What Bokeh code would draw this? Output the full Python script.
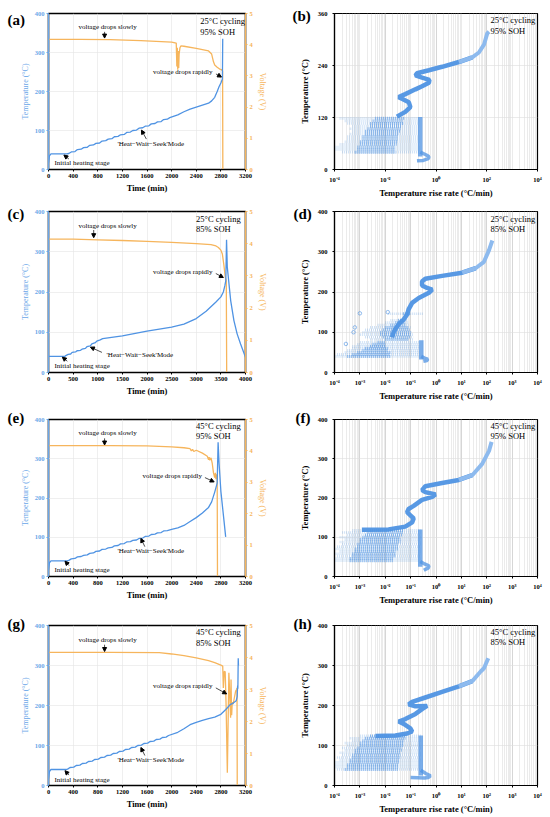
from bokeh.plotting import figure
from bokeh.models import (Range1d, LinearAxis, FixedTicker, Label, Arrow, NormalHead,
                          CustomJSTickFormatter)
from bokeh.layouts import column, row
from bokeh.embed import file_html
from bokeh.resources import INLINE

FONT = "Liberation Serif"
BLUE = "#4f93e3"
BLUE_LIGHT = "#8dbaee"
BLUE_AX = "#6aa6e8"
ORANGE = "#f6b55c"

# ---------------- data: time-series panels ----------------
# (a) 25°C cycling, 95% SOH
a_tT = [0, 15, 40, 300, 330, 370, 430, 470, 530, 570, 630, 670, 730, 770, 830, 870, 930, 970, 1030,
        1070, 1130, 1170, 1230, 1270, 1330, 1370, 1430, 1470, 1530, 1570, 1630, 1670, 1730, 1770, 1830,
        1870, 1930, 1970, 2100, 2200, 2300, 2400, 2500, 2600, 2650, 2700, 2740, 2770, 2800, 2825, 2830]
a_T = [17, 35, 40, 40, 41, 45, 46, 51, 52, 56, 57, 62, 63, 67, 68, 73, 74, 78, 79,
       84, 85, 89, 90, 95, 96, 100, 101, 106, 107, 111, 112, 117, 118, 122, 123,
       128, 129, 133, 140, 148, 155, 160, 165, 170, 176, 185, 200, 212, 222, 232, 335]
a_tV = [0, 500, 1000, 1500, 2000, 2075, 2085, 2092, 2100, 2107, 2115, 2122, 2135, 2150, 2200, 2400,
        2600, 2650, 2680, 2700, 2740, 2780, 2810, 2828, 2832, 2836]
a_V = [4.17, 4.17, 4.16, 4.13, 4.08, 4.05, 3.3, 3.9, 3.2, 3.8, 3.25, 3.7, 3.9, 3.96, 3.95, 3.88,
       3.8, 3.7, 3.45, 3.35, 3.28, 3.22, 3.2, 3.15, 0.0, 0.0]

# (c) 25°C cycling, 85% SOH
c_tT = [0, 330, 350, 400, 450, 480, 550, 580, 650, 680, 750, 780, 850, 880, 950, 980, 1050, 1100,
        1500, 2000, 2500, 2750, 3000, 3200, 3400, 3500, 3550, 3580, 3600, 3615, 3630, 3700, 3765,
        3830, 3900, 4000]
c_T = [40, 40, 42, 45, 46, 50, 51, 54, 55, 58, 60, 64, 66, 71, 74, 78, 81, 84,
       91, 103, 113, 120, 134, 152, 175, 188, 200, 215, 228, 330, 262, 178, 129,
       96, 71, 38]
c_tV = [0, 500, 1000, 1500, 2000, 2500, 3000, 3300, 3400, 3450, 3500, 3530, 3560, 3590, 3610, 3618, 3625]
c_V = [4.14, 4.14, 4.12, 4.1, 4.07, 4.04, 4.0, 3.97, 3.93, 3.88, 3.8, 3.68, 3.35, 2.95, 2.85, 0.0, 0.0]

# (e) 45°C cycling, 95% SOH
e_tT = [0, 15, 40, 300, 330, 370, 430, 470, 530, 570, 630, 670, 730, 770, 830, 870, 930, 970, 1030,
        1070, 1130, 1170, 1230, 1270, 1330, 1370, 1430, 1470, 1530, 1570, 1630, 1670, 1730, 1770, 1830,
        1870, 1930, 2000, 2100, 2200, 2300, 2400, 2500, 2600, 2650, 2700, 2740, 2755, 2770, 2800, 2850, 2878]
e_T = [17, 35, 40, 40, 41, 45, 46, 50, 51, 54, 55, 59, 60, 64, 65, 69, 70, 73, 74,
       78, 79, 83, 84, 88, 89, 92, 93, 97, 98, 102, 103, 107, 108, 111, 112,
       116, 117, 120, 124, 130, 140, 150, 162, 176, 190, 215, 238, 342, 290, 217, 143, 101]
e_tV = [0, 1000, 1600, 2000, 2200, 2300, 2320, 2340, 2360, 2400, 2500, 2580, 2600, 2610, 2620, 2640,
        2660, 2680, 2700, 2710, 2720, 2730, 2740, 2745, 2750]
e_V = [4.17, 4.17, 4.16, 4.13, 4.1, 4.07, 4.0, 4.05, 3.98, 4.02, 3.93, 3.83, 3.72, 3.8, 3.7, 3.78,
       3.6, 3.3, 3.15, 3.3, 3.1, 3.25, 3.2, 0.0, 0.0]

# (g) 45°C cycling, 85% SOH
g_tT = [0, 15, 40, 280, 310, 350, 410, 450, 510, 550, 610, 650, 710, 750, 810, 850, 910, 950, 1010,
        1050, 1110, 1150, 1210, 1250, 1310, 1350, 1410, 1450, 1510, 1550, 1610, 1650, 1710, 1750, 1810,
        1850, 1910, 1950, 2100, 2200, 2300, 2400, 2500, 2600, 2700, 2800, 2880, 2950, 3000, 3050,
        3065, 3072, 3076, 3082, 3086]
g_T = [17, 35, 40, 40, 41, 45, 46, 50, 51, 55, 56, 60, 61, 65, 66, 70, 71, 75, 76,
       80, 81, 85, 86, 90, 91, 95, 96, 100, 101, 105, 106, 110, 111, 115, 116,
       120, 121, 125, 133, 142, 152, 158, 163, 167, 171, 178, 190, 202, 206, 212,
       222, 250, 242, 318, 300]
g_tV = [0, 1000, 1800, 2000, 2200, 2400, 2600, 2700, 2800, 2830, 2840, 2855, 2870, 2885, 2905, 2930,
        2958, 2965, 2975, 2985, 3000, 3020, 3040, 3055, 3062, 3066, 3072]
g_V = [4.16, 4.16, 4.15, 4.11, 4.06, 3.99, 3.9, 3.84, 3.76, 3.73, 3.05, 3.57, 3.55, 2.5, 0.4, 3.52,
       2.12, 3.31, 2.2, 2.6, 2.54, 2.75, 2.95, 3.0, 3.05, 0.0, 0.0]

# ---------------- data: temperature-rise-rate panels (log10 of rate, °C) ----------------
# (b)
b_curve_lg = [-1.54, -1.21, -1.01, -1.07, -1.34, -1.47, -1.21, -0.81, -0.55, -0.28, -0.26, -0.55,
              -0.81, -0.75, -0.28, 0.24, 0.90, 1.43, 1.69, 1.89, 2.02, 2.09]
b_curve_T = [122, 133, 144, 155, 163, 167, 174, 185, 192, 200, 207, 212,
             217, 222, 229, 237, 248, 259, 270, 288, 314, 318]
b_row_T = [40, 46, 52, 58, 64, 70, 76, 82, 88, 94, 100, 106, 112, 118]
b_light_lo = [-3.7, -4.0, -4.0, -3.8, -3.6, -3.5, -3.5, -3.4, -3.3, -3.4, -3.3, -3.5, -3.6, -3.8]
b_light_hi = [-0.65] * 14
b_dense_lo = [-3.2, -3.1, -3.1, -3.0, -3.0, -2.9, -2.9, -2.8, -2.8, -2.7, -2.6, -2.6, -2.5, -2.4]
b_dense_hi = [-1.6, -1.6, -1.6, -1.55, -1.5, -1.5, -1.5, -1.45, -1.4, -1.4, -1.35, -1.3, -1.3, -1.25]
b_col_lg, b_col_T = -0.62, (30, 121)
b_hook_lg = [-0.62, -0.4, -0.28, -0.3, -0.5, -0.75]
b_hook_T = [40, 34, 30, 25, 21, 20]
b_pts_lg, b_pts_T = [], []

# (d)
d_curve_lg = [-1.73, -1.67, -1.60, -1.47, -1.27, -1.14, -1.08, -0.94, -0.68, -0.28, -0.15, -0.35,
              -0.55, -0.55, -0.42, 0.24, 1.03, 1.56, 1.89, 2.09, 2.22]
d_curve_T = [87, 100, 108, 120, 132, 144, 157, 173, 185, 198, 206, 210,
             216, 226, 233, 240, 248, 259, 275, 304, 328]
d_row_T = [40, 45, 50, 55, 60, 65, 70, 75, 82, 88, 94, 100, 106, 112, 118, 124, 130, 146]
d_light_lo = [-4.0, -3.9, -3.6, -3.5, -3.3, -3.3, -3.1, -3.0, -2.6, -2.8, -3.0, -2.9, -2.8, -2.6, -2.3, -2.0, -1.8, -1.9]
d_light_hi = [-0.65, -0.65, -0.65, -0.65, -0.65, -0.65, -0.65, -0.65, -0.9, -0.9, -0.9, -0.95, -1.0, -1.0, -1.05, -1.1, -1.1, -0.5]
d_dense_lo = [-3.5, -3.3, -3.1, -2.9, -2.8, -2.6, -2.5, -2.3, -2.0, -2.1, -2.2, -2.2, -2.1, -2.0, -1.8, -1.6, -1.5, -1.3]
d_dense_hi = [-1.8, -1.8, -1.8, -1.9, -1.9, -2.0, -2.0, -2.0, -1.1, -1.0, -1.0, -1.0, -1.05, -1.1, -1.2, -1.2, -1.25, -1.0]
d_col_lg, d_col_T = -0.58, (32, 80)
d_hook_lg = [-0.58, -0.45, -0.33, -0.35, -0.5]
d_hook_T = [40, 36, 33, 30, 28]
d_pts_lg = [-3.0, -3.2, -3.25, -3.55, -1.9]
d_pts_T = [147, 112, 100, 71, 150]

# (f)
f_curve_lg = [-2.92, -1.87, -1.21, -0.94, -0.88, -1.01, -1.14, -1.08, -0.88, -0.55, -0.15, -0.02,
              -0.42, -0.55, -0.42, 0.24, 0.90, 1.43, 1.82, 2.09, 2.19]
f_curve_T = [119, 120, 127, 138, 148, 156, 164, 172, 180, 195, 203, 209,
             215, 220, 230, 238, 246, 258, 287, 320, 343]
f_row_T = [40, 46, 52, 58, 64, 70, 76, 82, 88, 94, 100, 106, 112, 118]
f_light_lo = [-4.0, -4.0, -3.9, -4.0, -3.8, -4.0, -3.9, -3.7, -3.8, -3.6, -3.8, -3.5, -3.7, -3.3]
f_light_hi = [-0.6] * 14
f_dense_lo = [-3.4, -3.4, -3.3, -3.3, -3.2, -3.2, -3.1, -3.1, -3.0, -3.0, -2.9, -2.8, -2.7, -2.6]
f_dense_hi = [-1.7, -1.7, -1.6, -1.6, -1.6, -1.5, -1.5, -1.5, -1.4, -1.4, -1.4, -1.3, -1.3, -1.3]
f_col_lg, f_col_T = -0.62, (25, 120)
f_hook_lg = [-0.62, -0.45, -0.28, -0.3, -0.48]
f_hook_T = [38, 32, 27, 22, 16]
f_pts_lg, f_pts_T = [], []

# (h)
h_curve_lg = [-2.39, -1.60, -1.14, -0.94, -1.01, -1.27, -1.47, -1.21, -0.81, -0.55, -0.35, -0.81,
              -1.08, -0.94, -0.42, 0.24, 0.90, 1.43, 1.76, 1.89, 2.06]
h_curve_T = [124, 125, 130, 135, 143, 154, 160, 166, 179, 191, 199, 198,
             203, 209, 220, 234, 248, 261, 285, 293, 318]
h_row_T = [40, 46, 52, 58, 64, 70, 76, 82, 88, 94, 100, 106, 112, 118, 124]
h_light_lo = [-3.9, -4.0, -4.0, -4.0, -3.8, -3.9, -3.7, -3.8, -3.6, -3.7, -3.5, -3.6, -3.3, -3.4, -3.0]
h_light_hi = [-0.6] * 15
h_dense_lo = [-3.6, -3.5, -3.5, -3.4, -3.4, -3.3, -3.3, -3.2, -3.2, -3.1, -3.0, -3.0, -2.9, -2.8, -2.6]
h_dense_hi = [-1.5, -1.5, -1.5, -1.45, -1.45, -1.4, -1.4, -1.4, -1.35, -1.35, -1.3, -1.3, -1.25, -1.2, -1.2]
h_col_lg, h_col_T = -0.6, (25, 125)
h_hook_lg = [-0.6, -0.4, -0.22, -0.3, -0.45, -1.0]
h_hook_T = [38, 30, 24, 20, 19, 20]
h_pts_lg, h_pts_T = [], []

# tick labels
time_ticks_3200 = [0, 400, 800, 1200, 1600, 2000, 2400, 2800, 3200]
time_ticks_4000 = [0, 500, 1000, 1500, 2000, 2500, 3000, 3500, 4000]
temp_ticks = [0, 100, 200, 300, 400]
temp_ticks_b = [0, 120, 240, 360]
volt_ticks = [0, 1, 2, 3, 4, 5]
rate_decades = [-4, -3, -2, -1, 0, 1, 2, 3, 4]

SUP_JS = """
const sup = {"-":"\u207b","0":"\u2070","1":"\u00b9","2":"\u00b2","3":"\u00b3","4":"\u2074"};
const e = Math.round(Math.log10(tick));
return "10" + String(e).split("").map(c => sup[c]).join("");
"""


def style_axis(ax, color="black", bold_title=False, title_color=None, title_size="8.5px"):
    ax.major_label_text_font = FONT
    ax.major_label_text_font_size = "6.5px"
    ax.major_label_text_font_style = "bold"
    ax.major_label_text_color = color
    ax.axis_label_text_font = FONT
    ax.axis_label_text_font_size = title_size
    ax.axis_label_text_font_style = "bold" if bold_title else "normal"
    ax.axis_label_text_color = title_color or color
    ax.axis_line_color = color
    ax.axis_line_width = 1.2
    ax.major_tick_line_color = color
    ax.minor_tick_line_color = None
    ax.major_tick_in = 0
    ax.major_tick_out = 2
    ax.major_label_standoff = 2
    ax.axis_label_standoff = 2


def add_text(p, x, y, text, size="7px", align="center"):
    p.add_layout(Label(x=x, y=y, text=text, text_font=FONT,
                       text_font_size=size, text_align=align, text_baseline="middle",
                       text_color="black"))


def add_letter(p, x, y, letter):
    # placed in the left side panel so that it is not clipped to the frame
    p.add_layout(Label(x=x, y=y, x_units="canvas", y_units="canvas", text=letter,
                       text_font=FONT, text_font_size="15px", text_font_style="bold",
                       text_align="left", text_baseline="middle", text_color="black"), "left")


def add_arrow(p, x0, y0, x1, y1):
    p.add_layout(Arrow(end=NormalHead(size=4, fill_color="black", line_color="black"),
                       x_start=x0, y_start=y0, x_end=x1, y_end=y1,
                       line_color="black", line_width=0.7))


def left_panel(letter, letter_xy, tT, T, tV, V, xmax, xticks, ann, cond, h, top, bottom):
    p = figure(width=275, height=h, output_backend="svg", toolbar_location=None,
               x_range=Range1d(0, xmax), y_range=Range1d(0, 400),
               min_border_left=46, min_border_right=30, min_border_top=top,
               min_border_bottom=bottom)
    p.extra_y_ranges = {"v": Range1d(0, 5)}
    p.outline_line_color = "black"
    p.outline_line_width = 1.6
    p.xaxis.ticker = FixedTicker(ticks=xticks)
    p.yaxis.ticker = FixedTicker(ticks=temp_ticks)
    p.xaxis.axis_label = "Time (min)"
    p.yaxis.axis_label = "Temperature (°C)"
    style_axis(p.xaxis[0], "black", bold_title=True)
    style_axis(p.yaxis[0], BLUE_AX, title_size="8px")
    rax = LinearAxis(y_range_name="v", ticker=FixedTicker(ticks=volt_ticks), axis_label="Voltage (V)")
    style_axis(rax, ORANGE, title_size="8px")
    p.add_layout(rax, "right")
    for g in (p.xgrid, p.ygrid):
        g.grid_line_color = "#e4e4e4"
        g.grid_line_width = 0.6
    p.line(tV, V, y_range_name="v", color=ORANGE, line_width=1.3)
    p.line(tT, T, color=BLUE, line_width=1.3)
    for txt, tx, ty, ax0, ay0, ax1, ay1 in ann:
        add_text(p, tx, ty, txt)
        add_arrow(p, ax0, ay0, ax1, ay1)
    add_text(p, cond[0], cond[2], cond[4], size="8.5px", align="left")
    add_text(p, cond[0], cond[3], cond[5], size="8.5px", align="left")
    add_letter(p, letter_xy[0], letter_xy[1], letter)
    return p


def right_panel(letter, letter_xy, curve_lg, curve_T, row_T, light_lo, light_hi, dense_lo, dense_hi,
                col_lg, col_T, hook_lg, hook_T, pts_lg, pts_T, ymax, yticks, labels_every, cond,
                h, top, bottom):
    p = figure(width=275, height=h, output_backend="svg", toolbar_location=None,
               x_axis_type="log", x_range=Range1d(1e-4, 1e4), y_range=Range1d(0, ymax),
               min_border_left=59, min_border_right=13, min_border_top=top,
               min_border_bottom=bottom)
    p.outline_line_color = "black"
    p.outline_line_width = 1.2
    major = [10.0 ** d for d in rate_decades[::labels_every]]
    minor = [m * 10.0 ** d for d in rate_decades[:-1] for m in range(1, 10)]
    p.xaxis.ticker = FixedTicker(ticks=major, minor_ticks=minor)
    p.xaxis.formatter = CustomJSTickFormatter(code=SUP_JS)
    p.yaxis.ticker = FixedTicker(ticks=yticks)
    p.xaxis.axis_label = "Temperature rise rate (°C/min)"
    p.yaxis.axis_label = "Temperature (°C)"
    style_axis(p.xaxis[0], "black", bold_title=True)
    style_axis(p.yaxis[0], "black", bold_title=True)
    p.yaxis.major_label_standoff = 5
    p.yaxis.axis_label_standoff = 5
    p.xgrid.grid_line_color = "#c8c8c8"
    p.xgrid.grid_line_width = 0.6
    p.xgrid.minor_grid_line_color = "#dedede"
    p.xgrid.minor_grid_line_width = 0.6
    p.ygrid.grid_line_color = "#dddddd"
    p.ygrid.grid_line_width = 0.6

    def r(lst):
        return [10.0 ** v for v in lst]

    p.segment(x0=r(light_lo), y0=row_T, x1=r(light_hi), y1=row_T, line_color=BLUE,
              line_alpha=0.27, line_width=2.6, line_dash="1 1")
    p.segment(x0=r(dense_lo), y0=row_T, x1=r(dense_hi), y1=row_T, line_color=BLUE,
              line_alpha=0.6, line_width=3, line_dash="1 1")
    p.segment(x0=[10.0 ** col_lg], y0=[col_T[0]], x1=[10.0 ** col_lg], y1=[col_T[1]],
              line_color=BLUE, line_alpha=0.75, line_width=4.5)
    p.line(r(hook_lg), hook_T, color=BLUE, line_width=3.5, alpha=0.75)
    if pts_lg:
        p.scatter(r(pts_lg), pts_T, marker="circle", size=3.5, fill_color=None, line_color=BLUE, line_alpha=0.6)
    cx, cT = r(curve_lg), curve_T
    lo_x = [x for x, t in zip(cx, cT) if t <= 262]
    lo_T = [t for t in cT if t <= 262]
    hi_x = [x for x, t in zip(cx, cT) if t >= 246]
    hi_T = [t for t in cT if t >= 246]
    p.line(lo_x, lo_T, color=BLUE, line_width=4.5, alpha=0.95)
    p.line(hi_x, hi_T, color=BLUE_LIGHT, line_width=4)
    add_text(p, cond[0], cond[1], cond[3], size="8.5px", align="left")
    add_text(p, cond[0], cond[2], cond[4], size="8.5px", align="left")
    add_letter(p, letter_xy[0], letter_xy[1], letter)
    return p


HWS = "'Heat\u2212Wait\u2212Seek'Mode"

pa = left_panel("(a)", (7, 19), a_tT, a_T, a_tV, a_V, 3200, time_ticks_3200,
                [("voltage drops slowly", 960, 365, 911, 353, 911, 337),
                 ("voltage drops rapidly", 2180, 249, 2720, 245, 2810, 237),
                 (HWS, 1660, 66, 1590, 78, 1510, 101),
                 ("Initial heating stage", 546, 17, 330, 27, 250, 37)],
                (2466, None, 380, 353, "25°C cycling", "95% SOH"), 200, 13, 26)
pc = left_panel("(c)", (7, 13), c_tT, c_T, c_tV, c_V, 4000, time_ticks_4000,
                [("voltage drops slowly", 1200, 364, 918, 354, 918, 335),
                 ("voltage drops rapidly", 2727, 250, 3397, 246, 3551, 236),
                 (HWS, 1856, 44, 1085, 50, 851, 63),
                 ("Initial heating stage", 683, 17, 382, 28, 281, 38)],
                (2995, None, 381, 356, "25°C cycling", "85% SOH"), 205, 10, 33)
pe = left_panel("(e)", (7, 12), e_tT, e_T, e_tV, e_V, 3200, time_ticks_3200,
                [("voltage drops slowly", 960, 365, 911, 352, 911, 335),
                 ("voltage drops rapidly", 2010, 255, 2541, 252, 2691, 241),
                 (HWS, 1660, 64, 1565, 76, 1501, 97),
                 ("Initial heating stage", 546, 16, 332, 28, 268, 39)],
                (2396, None, 383, 357, "45°C cycling", "95% SOH"), 205, 10, 34)
pg = left_panel("(g)", (7, 13), g_tT, g_T, g_tV, g_V, 3200, time_ticks_3200,
                [("voltage drops slowly", 960, 364, 911, 352, 911, 335),
                 ("voltage drops rapidly", 2180, 248, 2718, 244, 2894, 229),
                 (HWS, 1660, 64, 1565, 75, 1501, 95),
                 ("Initial heating stage", 546, 14, 332, 26, 268, 37)],
                (2396, None, 383, 356, "45°C cycling", "85% SOH"), 207, 14, 32)

pb = right_panel("(b)", (17, 15), b_curve_lg, b_curve_T, b_row_T, b_light_lo, b_light_hi, b_dense_lo, b_dense_hi,
                 b_col_lg, b_col_T, b_hook_lg, b_hook_T, b_pts_lg, b_pts_T, 360, temp_ticks_b, 2,
                 (141, 344, 319, "25°C cycling", "95% SOH"), 200, 13, 25)
pd_ = right_panel("(d)", (18, 13), d_curve_lg, d_curve_T, d_row_T, d_light_lo, d_light_hi, d_dense_lo, d_dense_hi,
                  d_col_lg, d_col_T, d_hook_lg, d_hook_T, d_pts_lg, d_pts_T, 400, temp_ticks, 1,
                  (141, 381, 357, "25°C cycling", "85% SOH"), 205, 11, 31)
pf = right_panel("(f)", (20, 12), f_curve_lg, f_curve_T, f_row_T, f_light_lo, f_light_hi, f_dense_lo, f_dense_hi,
                 f_col_lg, f_col_T, f_hook_lg, f_hook_T, f_pts_lg, f_pts_T, 400, temp_ticks, 1,
                 (141, 384, 357, "45°C cycling", "95% SOH"), 205, 14, 28)
ph = right_panel("(h)", (18, 13), h_curve_lg, h_curve_T, h_row_T, h_light_lo, h_light_hi, h_dense_lo, h_dense_hi,
                 h_col_lg, h_col_T, h_hook_lg, h_hook_T, h_pts_lg, h_pts_T, 400, temp_ticks, 1,
                 (141, 384, 359, "45°C cycling", "85% SOH"), 207, 15, 29)

layout = column(row(pa, pb), row(pc, pd_), row(pe, pf), row(pg, ph))
open("out.html", "w").write(file_html(layout, INLINE))
